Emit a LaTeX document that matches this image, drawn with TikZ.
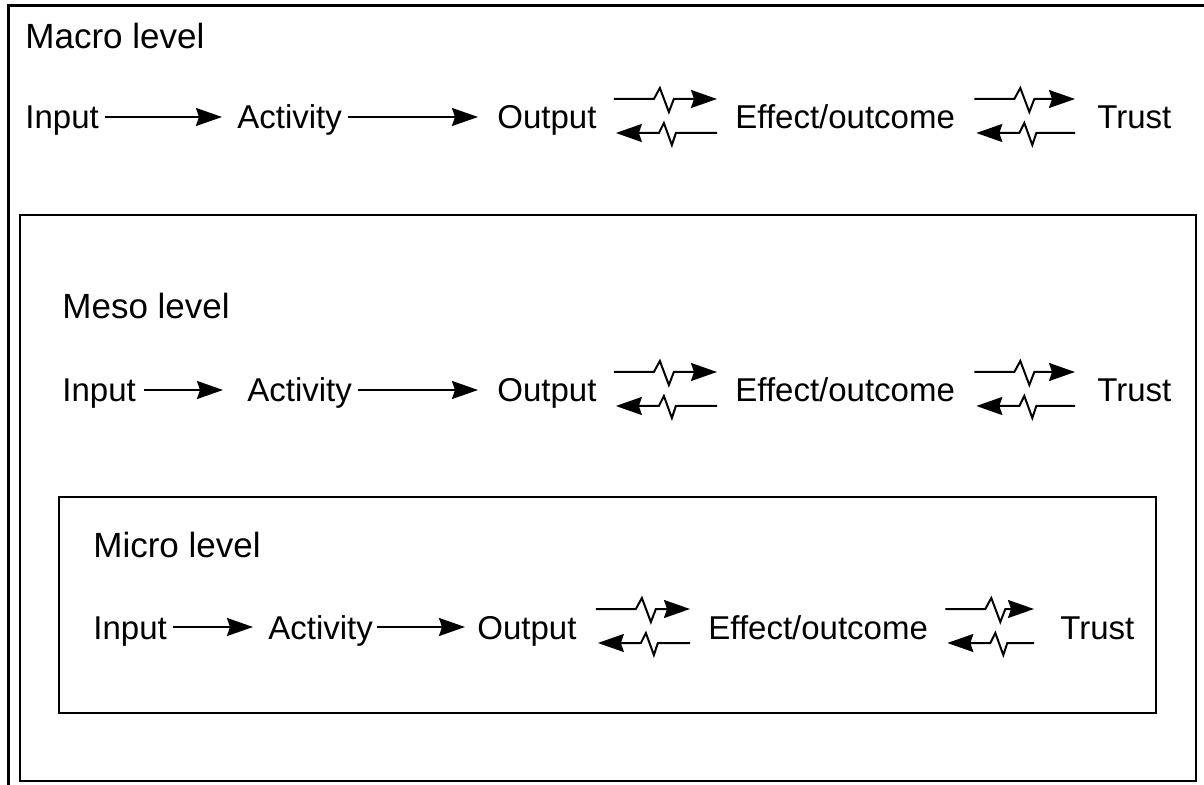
\documentclass[tikz,border=0pt]{standalone}
\usepackage{fontspec}
\setmainfont{Liberation Sans}
\usetikzlibrary{arrows.meta,calc}
\tikzset{
  lbl/.style={inner sep=0pt, font=\fontsize{16.5}{18}\selectfont},
  head/.style={inner sep=0pt, anchor=base west, font=\fontsize{17.5}{20}\selectfont},
  arr/.style={line width=1pt, -{Stealth[length=13pt,width=9pt,inset=1.5pt]}},
  rarr/.style={line width=1pt, {Stealth[length=13pt,width=9pt,inset=1.5pt]}-},
  boxline/.style={line width=1.3pt}
}
\newcommand{\zzpair}[4]{% left node, right node, left gap, right gap
  \draw[arr] ($(#1.base east)+(#3,-30)$) -- ++(40,0) -- ++(6,-11) -- ++(9,24) -- ++(5,-13)
     -- ($(#2.base west)+(-#4,-30)$);
  \draw[rarr] ($(#1.base east)+(#3+2,4)$) -- ++(43,0) -- ++(5,-10) -- ++(8,22) -- ++(4,-12)
     -- ($(#2.base west)+(-#4,4)$);
}
\begin{document}
\begin{tikzpicture}[x=0.5pt,y=-0.5pt]
\clip (0,0) rectangle (1204,785);
\fill[white] (0,0) rectangle (1204,785);
% boxes
\draw[boxline, line width=1.5pt] (8,6) rectangle (1230,820);
\draw[boxline] (20,215) rectangle (1196,781);
\draw[boxline] (59,497) rectangle (1156,713);
% headings
\node[head] (hmac) at (25,49) {Macro level};
\node[head] (hmes) at (62,319) {Meso level};
\node[head] (hmic) at (93,558) {Micro level};
% macro row
\node[lbl, anchor=base west] (in1) at (25,129) {Input};
\node[lbl, anchor=base west] (ac1) at (237,129) {Activity};
\node[lbl, anchor=base west] (ou1) at (497,129) {Output};
\node[lbl, anchor=base west] (ef1) at (735,129) {Effect/outcome};
\node[lbl, anchor=base west] (tr1) at (1097,129) {Trust};
\draw[arr] ($(in1.base east)+(6,-12)$) -- ($(ac1.base west)+(-15,-12)$);
\draw[arr] ($(ac1.base east)+(6,-12)$) -- ($(ou1.base west)+(-19,-12)$);
\zzpair{ou1}{ef1}{17}{18}
\zzpair{ef1}{tr1}{19}{22}
% meso row
\node[lbl, anchor=base west] (in2) at (62,402) {Input};
\node[lbl, anchor=base west] (ac2) at (247,402) {Activity};
\node[lbl, anchor=base west] (ou2) at (497,402) {Output};
\node[lbl, anchor=base west] (ef2) at (735,402) {Effect/outcome};
\node[lbl, anchor=base west] (tr2) at (1097,402) {Trust};
\draw[arr] ($(in2.base east)+(8,-12)$) -- ($(ac2.base west)+(-24,-12)$);
\draw[arr] ($(ac2.base east)+(6,-12)$) -- ($(ou2.base west)+(-19,-12)$);
\zzpair{ou2}{ef2}{17}{18}
\zzpair{ef2}{tr2}{19}{22}
% micro row
\node[lbl, anchor=base west] (in3) at (93,639) {Input};
\node[lbl, anchor=base west] (ac3) at (268,639) {Activity};
\node[lbl, anchor=base west] (ou3) at (477,639) {Output};
\node[lbl, anchor=base west] (ef3) at (708,639) {Effect/outcome};
\node[lbl, anchor=base west] (tr3) at (1060,639) {Trust};
\draw[arr] ($(in3.base east)+(6,-12)$) -- ($(ac3.base west)+(-15,-12)$);
\draw[arr] ($(ac3.base east)+(4,-12)$) -- ($(ou3.base west)+(-12,-12)$);
\zzpair{ou3}{ef3}{19}{18}
\zzpair{ef3}{tr3}{17}{26}
\end{tikzpicture}
\end{document}
